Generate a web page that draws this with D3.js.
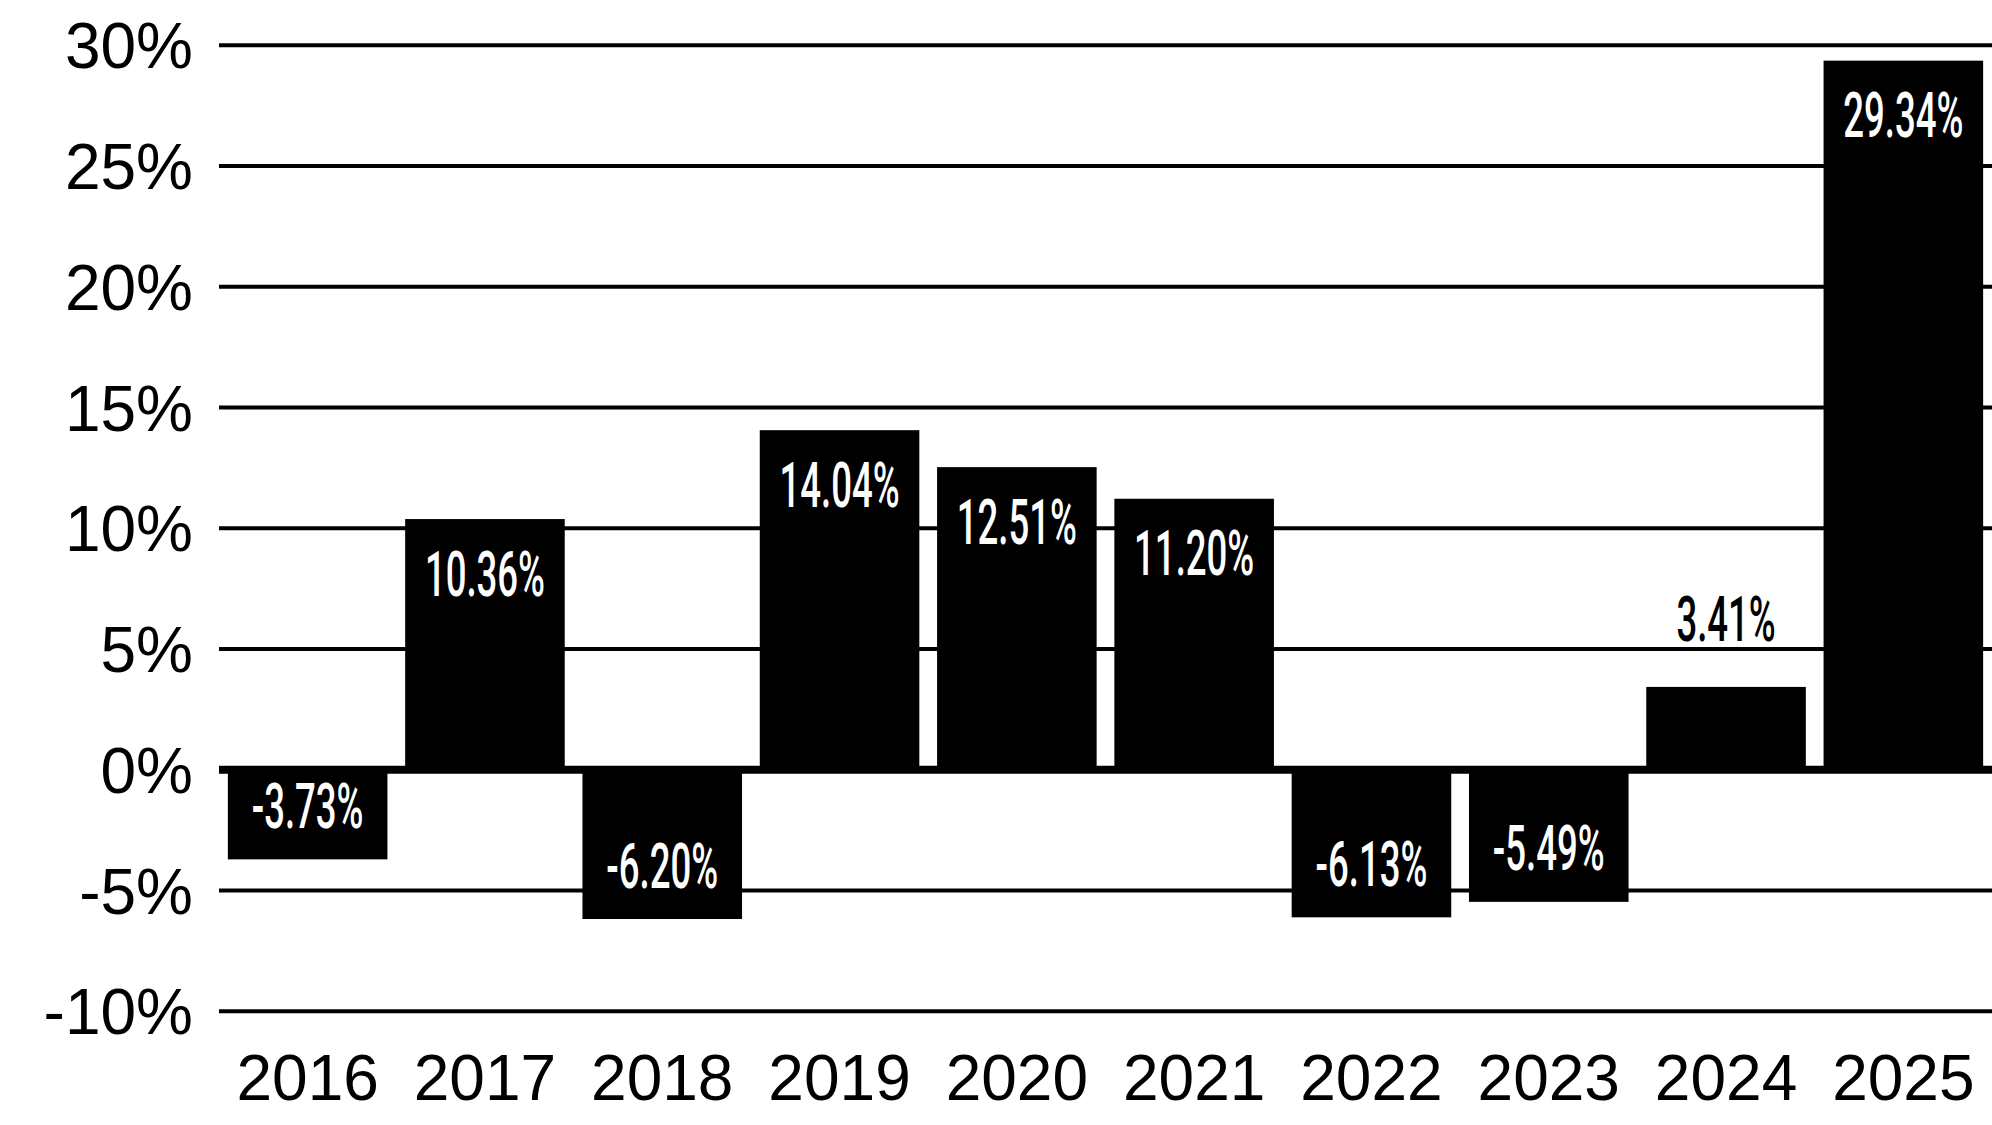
<!DOCTYPE html>
<html>
<head>
<meta charset="utf-8">
<script src="https://cdn.jsdelivr.net/npm/d3@7"></script>
<style>
  html, body { margin: 0; padding: 0; background: #fff; }
  svg { display: block; }
</style>
</head>
<body>
<svg id="chart" width="1992" height="1125"></svg>
<script>
const years = ["2016","2017","2018","2019","2020","2021","2022","2023","2024","2025"];
const returns = [-3.73, 10.36, -6.20, 14.04, 12.51, 11.20, -6.13, -5.49, 3.41, 29.34];
const yTicks = [30, 25, 20, 15, 10, 5, 0, -5, -10];
const yTickLabels = ["30%","25%","20%","15%","10%","5%","0%","-5%","-10%"];

const svg = d3.select("#chart");

const x = d3.scaleBand().domain(years).range([219, 1992]).paddingInner(0.1).paddingOuter(0.05);
const y = d3.scaleLinear().domain([-10, 30]).range([1010.8, 44.7]);

// gridlines + y labels
const yAxis = d3.axisLeft(y)
  .tickValues(yTicks)
  .tickSize(-(1992 - 219))
  .tickPadding(26)
  .tickFormat(d => yTickLabels[yTicks.indexOf(d)]);

const gy = svg.append("g").attr("transform", "translate(219,0)").call(yAxis);
gy.select(".domain").remove();
gy.selectAll(".tick line")
  .attr("stroke", "#000")
  .attr("stroke-width", d => d === 0 ? 8 : 4);
gy.selectAll(".tick text")
  .attr("fill", "#000")
  .attr("font-family", "'Liberation Sans', Arial, sans-serif")
  .attr("font-size", 64)
  .attr("dy", "0.36em");

// bars
svg.append("g").selectAll("rect")
  .data(returns)
  .join("rect")
  .attr("x", (d, i) => x(years[i]))
  .attr("width", x.bandwidth())
  .attr("y", d => y(Math.max(0, d)))
  .attr("height", d => Math.abs(y(d) - y(0)))
  .attr("fill", "#000");

// x axis labels
const xAxis = d3.axisBottom(x).tickSize(0).tickPadding(0);
const gx = svg.append("g").attr("transform", "translate(0,1100)").call(xAxis);
gx.select(".domain").remove();
gx.selectAll(".tick text")
  .attr("fill", "#000")
  .attr("font-family", "'Liberation Sans', Arial, sans-serif")
  .attr("font-size", 64)
  .attr("dy", 0)
  .attr("y", 0);

// value labels (condensed)
const capHalf = 22.5;
const inset = 54;
const minInside = 86;
const labelScaleX = 0.58;
const fits = d => Math.abs(y(d) - y(0)) >= minInside;
svg.append("g").selectAll("text")
  .data(returns)
  .join("text")
  .attr("transform", (d, i) => {
    const cx = x(years[i]) + x.bandwidth() / 2;
    const end = y(d);
    let cy;
    if (fits(d)) {
      cy = d >= 0 ? end + inset : end - inset;
    } else {
      cy = d >= 0 ? end - 68 : end + 68;
    }
    return `translate(${cx},${cy + capHalf}) scale(${labelScaleX},1)`;
  })
  .attr("text-anchor", "middle")
  .attr("font-family", "Roboto, 'Liberation Sans', sans-serif")
  .attr("font-weight", 500)
  .attr("font-size", 63)
  .attr("fill", d => fits(d) ? "#fff" : "#000")
  .text(d => d.toFixed(2) + "%");
</script>
</body>
</html>
